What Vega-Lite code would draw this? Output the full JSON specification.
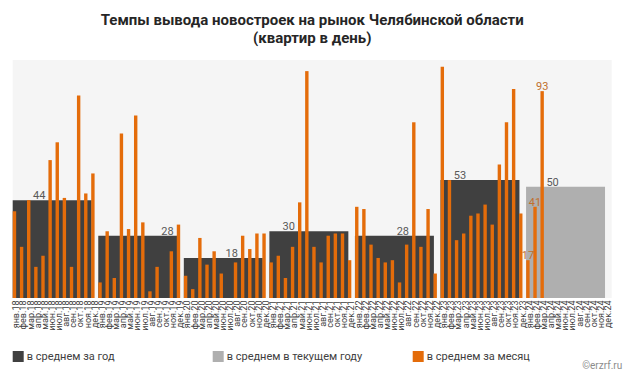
{
  "$schema": "https://vega.github.io/schema/vega-lite/v6.json",
  "autosize": {"type": "none"},
  "width": 599,
  "height": 238,
  "padding": {"left": 12.7, "top": 60, "right": 12.3, "bottom": 76},
  "background": "white",
  "config": {
    "view": {"fill": "#F5F5F5", "stroke": null},
    "font": "Roboto"
  },
  "title": {
    "text": ["Темпы вывода новостроек на рынок Челябинской области", "(квартир в день)"],
    "fontSize": 15,
    "fontWeight": "bold",
    "font": "Roboto",
    "color": "#262626",
    "anchor": "middle",
    "offset": 14,
    "lineHeight": 18
  },
  "datasets": {
    "years": [
      {"year": "2018", "avg": 44, "type": "в среднем за год"},
      {"year": "2019", "avg": 28, "type": "в среднем за год"},
      {"year": "2020", "avg": 18, "type": "в среднем за год"},
      {"year": "2021", "avg": 30, "type": "в среднем за год"},
      {"year": "2022", "avg": 28, "type": "в среднем за год"},
      {"year": "2023", "avg": 53, "type": "в среднем за год"},
      {"year": "2024", "avg": 50, "type": "в среднем в текущем году"}
    ],
    "months": [
      {"m": "янв.18", "v": 39}, {"m": "фев.18", "v": 23}, {"m": "мар.18", "v": 44}, {"m": "апр.18", "v": 14, "ya": 44},
      {"m": "май.18", "v": 19}, {"m": "июн.18", "v": 62}, {"m": "июл.18", "v": 70}, {"m": "авг.18", "v": 45},
      {"m": "сен.18", "v": 14}, {"m": "окт.18", "v": 91}, {"m": "ноя.18", "v": 47}, {"m": "дек.18", "v": 56},
      {"m": "янв.19", "v": 7}, {"m": "фев.19", "v": 30}, {"m": "мар.19", "v": 9}, {"m": "апр.19", "v": 74},
      {"m": "май.19", "v": 31}, {"m": "июн.19", "v": 82}, {"m": "июл.19", "v": 34}, {"m": "авг.19", "v": 3},
      {"m": "сен.19", "v": 14}, {"m": "окт.19", "v": 0, "ya": 28}, {"m": "ноя.19", "v": 21}, {"m": "дек.19", "v": 33},
      {"m": "янв.20", "v": 10}, {"m": "фев.20", "v": 4}, {"m": "мар.20", "v": 27}, {"m": "апр.20", "v": 15},
      {"m": "май.20", "v": 21}, {"m": "июн.20", "v": 11}, {"m": "июл.20", "v": 0, "ya": 18}, {"m": "авг.20", "v": 16},
      {"m": "сен.20", "v": 28}, {"m": "окт.20", "v": 22}, {"m": "ноя.20", "v": 29}, {"m": "дек.20", "v": 29},
      {"m": "янв.21", "v": 16}, {"m": "фев.21", "v": 19}, {"m": "мар.21", "v": 9, "ya": 30}, {"m": "апр.21", "v": 23},
      {"m": "май.21", "v": 43}, {"m": "июн.21", "v": 102}, {"m": "июл.21", "v": 23}, {"m": "авг.21", "v": 16},
      {"m": "сен.21", "v": 28}, {"m": "окт.21", "v": 29}, {"m": "ноя.21", "v": 29}, {"m": "дек.21", "v": 17},
      {"m": "янв.22", "v": 41}, {"m": "фев.22", "v": 40}, {"m": "мар.22", "v": 24}, {"m": "апр.22", "v": 18},
      {"m": "май.22", "v": 16}, {"m": "июн.22", "v": 17}, {"m": "июл.22", "v": 7, "ya": 28}, {"m": "авг.22", "v": 24},
      {"m": "сен.22", "v": 79}, {"m": "окт.22", "v": 23}, {"m": "ноя.22", "v": 40}, {"m": "дек.22", "v": 11},
      {"m": "янв.23", "v": 104}, {"m": "фев.23", "v": 53}, {"m": "мар.23", "v": 26, "ya": 53}, {"m": "апр.23", "v": 29},
      {"m": "май.23", "v": 37}, {"m": "июн.23", "v": 38}, {"m": "июл.23", "v": 42}, {"m": "авг.23", "v": 33},
      {"m": "сен.23", "v": 60}, {"m": "окт.23", "v": 79}, {"m": "ноя.23", "v": 94}, {"m": "дек.23", "v": 38},
      {"m": "янв.24", "v": 17, "lbl": 17}, {"m": "фев.24", "v": 41, "lbl": 41}, {"m": "мар.24", "v": 93, "lbl": 93}, {"m": "апр.24", "v": null, "ya": 50},
      {"m": "май.24", "v": null}, {"m": "июн.24", "v": null}, {"m": "июл.24", "v": null}, {"m": "авг.24", "v": null},
      {"m": "сен.24", "v": null}, {"m": "окт.24", "v": null}, {"m": "ноя.24", "v": null}, {"m": "дек.24", "v": null}
    ]
  },
  "layer": [
    {
      "data": {"name": "years"},
      "mark": {"type": "bar"},
      "encoding": {
        "x": {
          "field": "year", "type": "ordinal", "sort": null,
          "scale": {"paddingInner": 0.077, "paddingOuter": 0.039, "align": 0, "round": false},
          "axis": null
        },
        "y": {"field": "avg", "type": "quantitative", "scale": {"domain": [0, 107], "nice": false}, "axis": null},
        "color": {
          "field": "type", "type": "nominal",
          "scale": {
            "domain": ["в среднем за год", "в среднем в текущем году", "в среднем за месяц"],
            "range": ["#404040", "#AFAFAF", "#E46C0A"]
          },
          "legend": {
            "title": null,
            "orient": "none",
            "legendX": 0,
            "legendY": 291,
            "direction": "horizontal",
            "columns": 3,
            "gridAlign": "all",
            "columnPadding": 50,
            "symbolType": "square",
            "symbolSize": 121,
            "symbolStrokeWidth": 0,
            "symbolOpacity": 1,
            "labelFontSize": 11,
            "labelFont": "Roboto",
            "labelColor": "#404040",
            "labelOffset": 3,
            "labelLimit": 300
          }
        }
      }
    },
    {
      "data": {"name": "months"},
      "encoding": {
        "x": {
          "field": "m", "type": "ordinal",
          "scale": {
            "domain": ["янв.18","фев.18","мар.18","апр.18","май.18","июн.18","июл.18","авг.18","сен.18","окт.18","ноя.18","дек.18",
                       "янв.19","фев.19","мар.19","апр.19","май.19","июн.19","июл.19","авг.19","сен.19","окт.19","ноя.19","дек.19",
                       "янв.20","фев.20","мар.20","апр.20","май.20","июн.20","июл.20","авг.20","сен.20","окт.20","ноя.20","дек.20",
                       "янв.21","фев.21","мар.21","апр.21","май.21","июн.21","июл.21","авг.21","сен.21","окт.21","ноя.21","дек.21",
                       "янв.22","фев.22","мар.22","апр.22","май.22","июн.22","июл.22","авг.22","сен.22","окт.22","ноя.22","дек.22",
                       "янв.23","фев.23","мар.23","апр.23","май.23","июн.23","июл.23","авг.23","сен.23","окт.23","ноя.23","дек.23",
                       "янв.24","фев.24","мар.24","апр.24","май.24","июн.24","июл.24","авг.24","сен.24","окт.24","ноя.24","дек.24"],
            "paddingInner": 0, "paddingOuter": 0, "round": false
          },
          "axis": {
            "labelAngle": 270,
            "labelFontSize": 9,
            "labelFont": "Roboto",
            "labelColor": "#404040",
            "labelPadding": 2,
            "labelOverlap": false,
            "ticks": false,
            "domain": false,
            "title": "©erzrf.ru",
            "titleFontSize": 10,
            "titleFontWeight": "normal",
            "titleColor": "#8C8C8C",
            "titleFont": "Roboto",
            "titleX": 609,
            "titleY": 70,
            "titleAlign": "right",
            "titleBaseline": "alphabetic",
            "titleAnchor": null
          }
        }
      },
      "layer": [
        {
          "mark": {"type": "bar", "width": 3.4, "xOffset": -1.8},
          "encoding": {
            "y": {"field": "v", "type": "quantitative"},
            "color": {"datum": "в среднем за месяц"}
          }
        },
        {
          "mark": {"type": "text", "fontSize": 11, "color": "#595959", "baseline": "alphabetic", "dy": -1, "xOffset": 1.5},
          "encoding": {
            "y": {"field": "ya", "type": "quantitative"},
            "text": {"field": "ya", "type": "quantitative"}
          }
        },
        {
          "mark": {"type": "text", "fontSize": 11, "color": "#C0702E", "baseline": "alphabetic", "dy": -1, "xOffset": -1.8},
          "encoding": {
            "y": {"field": "lbl", "type": "quantitative"},
            "text": {"field": "lbl", "type": "quantitative"}
          }
        }
      ]
    }
  ],
  "resolve": {"scale": {"x": "independent"}}
}
